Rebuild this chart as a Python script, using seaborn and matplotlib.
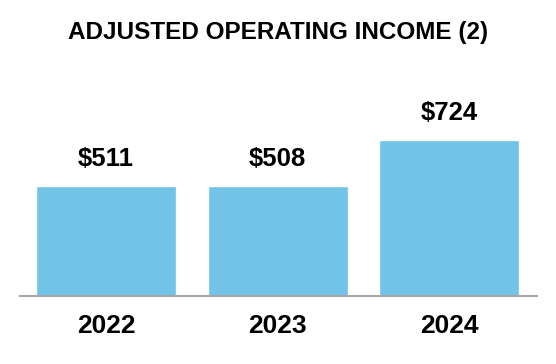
import matplotlib
matplotlib.use("Agg")
import matplotlib.pyplot as plt
import pandas as pd
import seaborn as sns

# data
years = ["2022", "2023", "2024"]
income = [511, 508, 724]
value_labels = ["$511", "$508", "$724"]

df = pd.DataFrame({"year": years, "income": income})

sns.set_style("white")
plt.rcParams["font.family"] = ["Liberation Sans", "DejaVu Sans"]
plt.rcParams["text.color"] = "black"
plt.rcParams["xtick.color"] = "black"

fig = plt.figure(figsize=(5.56, 3.64), dpi=100)
ax = fig.add_axes([0.036, 0.187, 0.93, 0.592])

sns.barplot(data=df, x="year", y="income", color="#71C4E8", saturation=1,
            width=0.815, ax=ax)

ax.set_xlim(-0.5, 2.51)
ax.set_ylim(0, 1000)

for bar, label in zip(ax.patches, value_labels):
    ax.annotate(label, (bar.get_x() + bar.get_width() / 2, bar.get_height()),
                xytext=(0, 19.5), textcoords="offset points",
                ha="center", va="center", fontsize=18.5, fontweight="bold",
                color="black")

for side in ["top", "right", "left"]:
    ax.spines[side].set_visible(False)
ax.spines["bottom"].set_color("#A6A6A6")
ax.spines["bottom"].set_linewidth(1.5)
ax.set_yticks([])
ax.set_xlabel("")
ax.set_ylabel("")
ax.tick_params(axis="x", length=0, pad=13, labelsize=19, labelcolor="black")
for t in ax.get_xticklabels():
    t.set_fontweight("bold")

fig.text(0.5, 1 - 32 / 364, "ADJUSTED OPERATING INCOME (2)", ha="center",
         va="center", fontsize=17.5, fontweight="bold", color="black")

fig.savefig("out.png", dpi=100)
